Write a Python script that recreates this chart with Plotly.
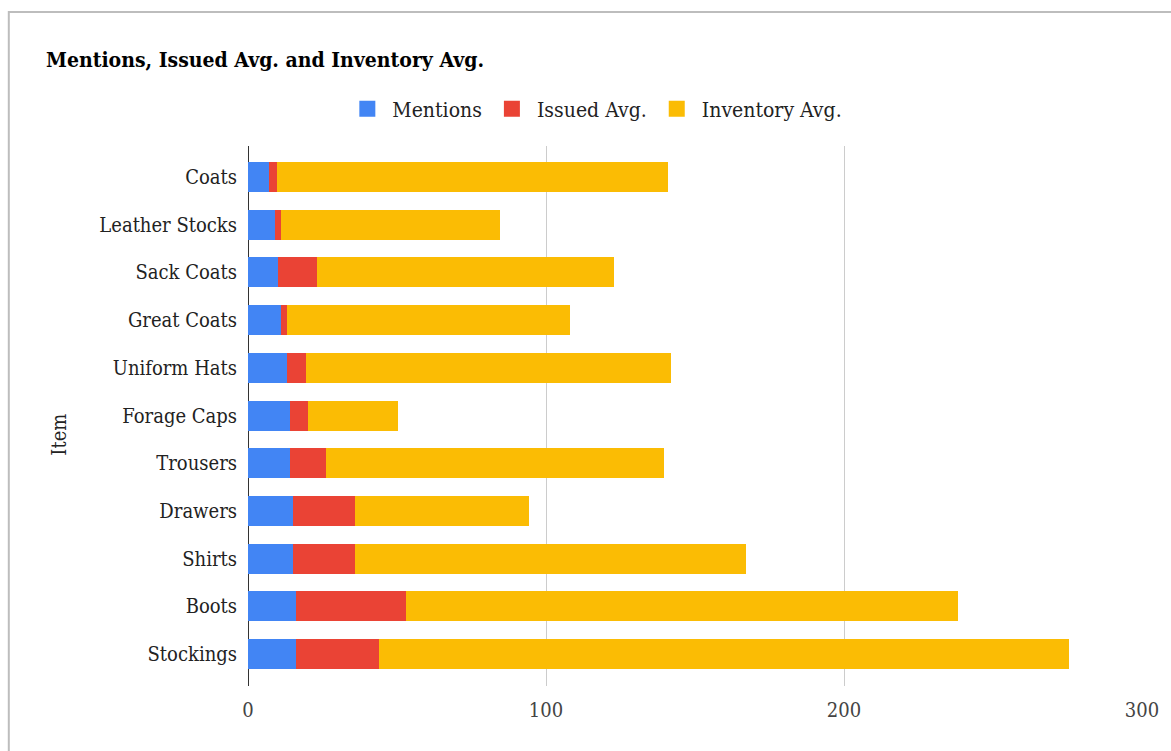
import plotly.graph_objects as go

items = ["Coats", "Leather Stocks", "Sack Coats", "Great Coats", "Uniform Hats",
         "Forage Caps", "Trousers", "Drawers", "Shirts", "Boots", "Stockings"]
mentions = [7, 9, 10, 11, 13, 14, 14, 15, 15, 16, 16]
issued_avg = [2.6, 2.2, 13.3, 2.2, 6.6, 6.0, 12.2, 21.0, 21.0, 37.0, 28.0]
inventory_avg = [131.2, 73.2, 99.4, 94.8, 122.2, 30.2, 113.3, 58.4, 131.0, 185.1, 231.5]
x_ticks = [0, 100, 200, 300]

FONT = "DejaVu Serif Condensed, DejaVu Serif"
L, R, T, B = 248, 26, 146, 65
W, H = 1171, 751
pw, ph = W - L - R, H - T - B

def px_x(p):
    return (p - L) / pw

def px_y(p):
    return (H - B - p) / ph

series = [("Mentions", mentions, "#4285F4"),
          ("Issued Avg.", issued_avg, "#EA4335"),
          ("Inventory Avg.", inventory_avg, "#FBBC04")]

fig = go.Figure()
for name, vals, col in series:
    fig.add_trace(go.Bar(y=items, x=vals, name=name, orientation="h",
                         marker=dict(color=col, line=dict(width=0)),
                         showlegend=False))
# legend entries with larger square swatches
for name, vals, col in series:
    fig.add_trace(go.Scatter(x=[None], y=[None], mode="markers", name=name,
                             marker=dict(symbol="square", size=16, color=col)))

fig.update_layout(
    width=W, height=H, barmode="stack", bargap=0.37,
    margin=dict(l=L, r=R, t=T, b=B),
    paper_bgcolor="white", plot_bgcolor="white",
    font=dict(family=FONT, size=19, color="#222222"),
    title=dict(text="<b>Mentions, Issued Avg. and Inventory Avg.</b>",
               x=46 / W, xanchor="left", y=1 - 60 / H, yanchor="middle",
               font=dict(family=FONT, size=21, color="#000000")),
    legend=dict(orientation="h", x=px_x(596), xanchor="center",
                y=px_y(109), yanchor="middle",
                font=dict(family=FONT, size=21, color="#222222"),
                traceorder="normal", itemwidth=40),
    xaxis=dict(range=[0, 300], tickvals=x_ticks, showgrid=True,
               gridcolor="#cccccc", gridwidth=1, zeroline=True,
               zerolinecolor="#333333", zerolinewidth=1,
               tickfont=dict(family=FONT, size=20, color="#444444"),
               ticks="", ticklabelstandoff=10, showline=False),
    yaxis=dict(categoryorder="array", categoryarray=items,
               range=[10.67, -0.65], showgrid=False, ticks="",
               tickfont=dict(family=FONT, size=20, color="#222222"),
               ticklabelstandoff=10),
    annotations=[dict(text="Item", textangle=-90, xref="paper", yref="paper",
                      x=px_x(58), y=px_y(435), xanchor="center", yanchor="middle",
                      showarrow=False, font=dict(family=FONT, size=20, color="#222222"))],
    shapes=[dict(type="rect", xref="paper", yref="paper",
                 x0=px_x(8), x1=px_x(1185), y0=px_y(765), y1=px_y(12),
                 line=dict(color="#bdbdbd", width=2), layer="below")],
)

fig.write_html("out.html")
